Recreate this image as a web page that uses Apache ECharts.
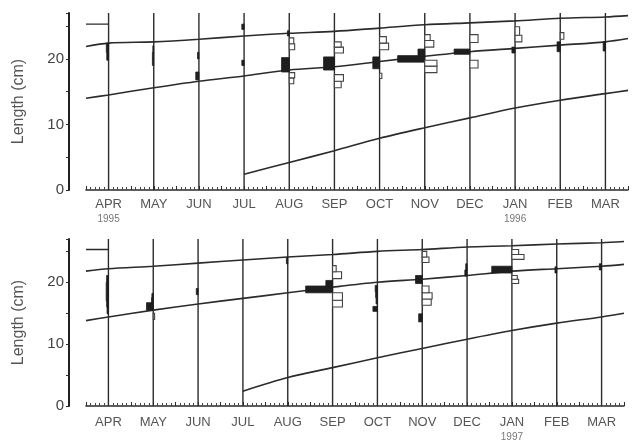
<!DOCTYPE html>
<html>
<head>
<meta charset="utf-8">
<script src="https://cdn.jsdelivr.net/npm/echarts@6/dist/echarts.min.js"></script>
<style>
html,body{margin:0;padding:0;background:#fff;}
#c{width:638px;height:444px;}
</style>
</head>
<body>
<div id="c"></div>
<script>
// ---- tick labels ----
const months = ['APR','MAY','JUN','JUL','AUG','SEP','OCT','NOV','DEC','JAN','FEB','MAR'];
const yearsTop = ['1995','','','','','','','','','1996','',''];
const yearsBottom = ['','','','','','','','','','1997','',''];
const sampleMonths = [0,1,2,3,4,5,6,7,8,9,10,11];

// ---- growth curves (x in months from APR, y = length cm) ----
const curveX = [-0.5,0,1,2,3,4,5,6,7,8,9,10,11,11.5];
const topA = [21.9,22.4,22.6,23.0,23.5,23.9,24.2,24.7,25.2,25.5,25.8,26.2,26.4,26.6];
const topB = [14.0,14.5,15.6,16.6,17.4,18.3,18.8,19.6,20.4,21.1,21.6,22.1,22.6,23.1];
const curveCX = [3,4,5,6,7,8,9,10,11,11.5];
const topC = [2.4,4.2,6.0,7.9,9.5,11.0,12.5,13.7,14.7,15.2];
const botA = [21.8,22.2,22.6,23.1,23.6,24.1,24.5,25.0,25.3,25.7,25.9,26.2,26.4,26.6];
const botB = [13.8,14.4,15.5,16.5,17.4,18.3,19.2,20.0,20.5,21.1,21.8,22.2,22.6,22.9];
const botC = [2.4,4.6,6.2,7.8,9.3,10.8,12.2,13.4,14.4,15.0];
const capX = [-0.5,0];
const capTop = [25.3,25.3];
const capBot = [25.3,25.3];

// ---- length-frequency histograms: [month, lowLength, highLength, frequency width] ----
const topFilled = [
  [0,19.8,21,0.04],[0,21,22.4,0.05],
  [1,19,20,0.03],[1,20,21,0.03],[1,21,22,0.02],
  [2,16.8,18,0.07],[2,20,21,0.03],
  [3,24.5,25.3,0.05],[3,19,19.8,0.05],
  [4,18,19.1,0.17],[4,19.1,20.2,0.17],[4,23.5,24.3,0.04],
  [5,18.3,19.3,0.24],[5,19.3,20.3,0.24],
  [6,18.5,19.4,0.15],[6,19.4,20.3,0.15],
  [7,19.5,20.5,0.6],[7,20.5,21.5,0.15],
  [8,20.7,21.5,0.35],
  [9,20.9,21.8,0.07],
  [10,21.1,22.6,0.07],
  [11,21.2,22.6,0.05]
];
const topOpen = [
  [4,21.4,22.3,0.12],[4,22.3,23.2,0.1],[4,16.2,17.1,0.1],[4,17.1,17.9,0.12],
  [5,20.9,21.8,0.2],[5,21.8,22.6,0.15],[5,15.6,16.6,0.15],[5,16.6,17.6,0.2],
  [6,21.4,22.4,0.2],[6,22.4,23.4,0.15],[6,17,17.8,0.05],
  [7,21.8,22.8,0.2],[7,22.8,23.7,0.12],[7,17.9,18.9,0.27],[7,18.9,19.8,0.27],
  [8,22.5,23.7,0.18],[8,18.6,19.8,0.18],
  [9,22.6,23.6,0.15],[9,23.6,24.9,0.1],
  [10,23,24,0.08]
];
const botFilled = [
  [0,14.9,16,0.03],[0,16,17,0.04],[0,17,18,0.05],[0,18,19,0.05],[0,19,20,0.05],[0,20,21.1,0.04],
  [1,15.5,16.7,0.15],[1,16.7,17.5,0.04],[1,17.5,18.2,0.03],
  [2,18,19,0.04],
  [4,23,24,0.03],
  [5,18.3,19.4,0.6],[5,19.4,20.3,0.15],
  [6,16.5,17.5,0.03],[6,17.5,18.5,0.04],[6,18.5,19.5,0.05],[6,15.3,16.1,0.1],
  [7,19.8,21.1,0.15],[7,13.6,14.9,0.08],
  [8,21,22,0.05],[8,22,23,0.03],
  [9,21.5,22.6,0.45],
  [10,21.5,22.5,0.04],
  [11,22,23,0.05]
];
const botOpen = [
  [1,14,15,0.03],
  [5,20.6,21.7,0.2],[5,21.7,22.7,0.08],[5,16,17.1,0.22],[5,17.1,18.3,0.22],
  [7,23.2,24.1,0.15],[7,24.1,25,0.1],[7,16.3,17.3,0.2],[7,17.3,18.3,0.22],[7,18.3,19.4,0.15],
  [9,23.7,24.5,0.27],[9,24.5,25.3,0.15],[9,19.8,20.5,0.15],[9,20.5,21.1,0.12]
];

const ink = '#2b2b2b';
const textCol = '#555';

function zip(xs, ys){ return xs.map((x,i)=>[x, ys[i]]); }

function xAxisFor(idx, years, margin){
  return {
    type:'value', gridIndex:idx, min:-0.5, max:11.5, interval:0.5,
    axisLine:{show:true, onZero:false, lineStyle:{color:ink, width:1.5}},
    axisTick:{show:true, inside:true, length:4, lineStyle:{color:ink}},
    minorTick:{show:true, splitNumber:5, length:3, lineStyle:{color:'#444'}},
    splitLine:{show:false},
    axisLabel:{
      show:true, margin:margin, color:textCol, fontSize:13, lineHeight:16,
      fontFamily:'Liberation Sans, Arial, sans-serif',
      formatter:function(v){
        if (Math.abs(v - Math.round(v)) > 1e-6) return '';
        const i = Math.round(v);
        if (i < 0 || i > 11) return '';
        return years[i] ? months[i] + '\n{y|' + years[i] + '}' : months[i];
      },
      rich:{y:{fontSize:10, color:'#777', lineHeight:14, fontFamily:'Liberation Sans, Arial, sans-serif'}}
    }
  };
}
function yAxisFor(idx){
  return {
    type:'value', gridIndex:idx, min:0, max:27, interval:5, offset:17, position:'left',
    name:'Length (cm)', nameLocation:'middle', nameGap:42,
    nameTextStyle:{color:textCol, fontSize:16, fontFamily:'Liberation Sans, Arial, sans-serif'},
    axisLine:{show:true, onZero:false, lineStyle:{color:'#222', width:2}},
    axisTick:{show:true, length:3, lineStyle:{color:ink}},
    splitLine:{show:false},
    axisLabel:{color:'#444', fontSize:15, margin:5, fontFamily:'Liberation Sans, Arial, sans-serif',
      formatter:function(v){ return (v===0||v===10||v===20) ? String(v) : ''; }}
  };
}

function vlines(idx){
  return {
    type:'custom', xAxisIndex:idx, yAxisIndex:idx, silent:true,
    data:sampleMonths.map(m=>[m]),
    encode:{x:0},
    renderItem:function(params, api){
      const p0 = api.coord([api.value(0), 0]);
      const p1 = api.coord([api.value(0), 27]);
      return {type:'line', shape:{x1:p0[0], y1:p0[1], x2:p1[0], y2:p1[1]},
        style:{stroke:ink, lineWidth:1.4}};
    }
  };
}
function hist(idx, data, filled){
  return {
    type:'custom', xAxisIndex:idx, yAxisIndex:idx, silent:true, z:5,
    data:data, encode:{x:0, y:[1,2]},
    renderItem:function(params, api){
      const m = api.value(0), lo = api.value(1), hi = api.value(2), w = api.value(3);
      const xa = api.coord([m, lo]);
      const xb = api.coord([filled ? m - w : m + w, hi]);
      const x = Math.min(xa[0], xb[0]), y = Math.min(xa[1], xb[1]);
      return {type:'rect', shape:{x:x, y:y, width:Math.abs(xb[0]-xa[0]), height:Math.abs(xb[1]-xa[1])},
        style: filled ? {fill:'#1e1e1e', stroke:'#1e1e1e', lineWidth:0.8}
                      : {fill:'#fff', stroke:'#444', lineWidth:1.1}};
    }
  };
}
function curve(idx, xs, ys){
  return {type:'line', xAxisIndex:idx, yAxisIndex:idx, data:zip(xs, ys), smooth:0.3,
    symbol:'none', silent:true, z:4, lineStyle:{color:ink, width:1.6}};
}
function seg(idx, xs, ys){
  return {type:'line', xAxisIndex:idx, yAxisIndex:idx, data:zip(xs, ys),
    symbol:'none', silent:true, lineStyle:{color:ink, width:1.4}};
}

const chart = echarts.init(document.getElementById('c'), null, {renderer:'canvas'});
chart.setOption({
  backgroundColor:'#ffffff',
  animation:false,
  grid:[
    {left:86, right:10, top:13, height:177},
    {left:86, right:14, top:239, height:174}
  ],
  xAxis:[xAxisFor(0, yearsTop, 6), xAxisFor(1, yearsBottom, 8)],
  yAxis:[yAxisFor(0), yAxisFor(1)],
  series:[
    vlines(0), vlines(1),
    curve(0, curveX, topA), curve(0, curveX, topB), curve(0, curveCX, topC),
    curve(1, curveX, botA), curve(1, curveX, botB), curve(1, curveCX, botC),
    seg(0, capX, capTop), seg(1, capX, capBot),
    hist(0, topFilled, true), hist(0, topOpen, false),
    hist(1, botFilled, true), hist(1, botOpen, false)
  ]
});
</script>
</body>
</html>
